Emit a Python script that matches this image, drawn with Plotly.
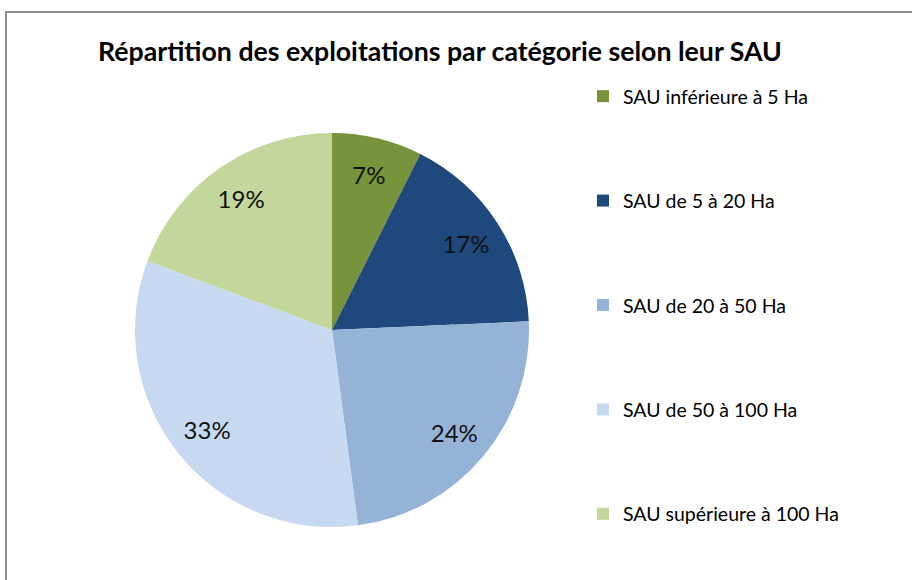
import plotly.graph_objects as go

categories = [
    "SAU inférieure à 5 Ha",
    "SAU de 5 à 20 Ha",
    "SAU de 20 à 50 Ha",
    "SAU de 50 à 100 Ha",
    "SAU supérieure à 100 Ha",
]
shares = [7.4, 16.9, 23.6, 32.8, 19.3]
colors = ["#77933C", "#1F497D", "#95B3D7", "#C6D9F1", "#C3D69B"]

W, H = 912, 580
FONT = "Lato"

# pie geometry (pixels)
CX, CY, R = 332, 330, 197
HOLE = 0.62  # outer ring holds the labels; inner pie fills the hole

# extra blank lines give the spaced-out legend rows of the original
legend_labels = [
    c + ("<br> <br> <br> " if i < len(categories) - 1 else "")
    for i, c in enumerate(categories)
]


def dom(r):
    return dict(
        x=[(CX - r) / W, (CX + r) / W],
        y=[1 - (CY + r) / H, 1 - (CY - r) / H],
    )


outer = go.Pie(
    labels=legend_labels,
    values=shares,
    sort=False,
    direction="clockwise",
    rotation=0,
    hole=HOLE,
    marker=dict(colors=colors, line=dict(width=0)),
    texttemplate="%{percent:.0%}",
    textposition="inside",
    insidetextorientation="horizontal",
    textfont=dict(family=FONT, size=24, color="#111111"),
    hovertemplate="%{customdata}: %{percent:.0%}<extra></extra>",
    customdata=categories,
    domain=dom(R),
)

inner = go.Pie(
    labels=legend_labels,
    values=shares,
    sort=False,
    direction="clockwise",
    rotation=0,
    marker=dict(colors=colors, line=dict(width=0)),
    textinfo="none",
    showlegend=False,
    hovertemplate="%{customdata}: %{percent:.0%}<extra></extra>",
    customdata=categories,
    domain=dom(R * HOLE + 1.5),
)

fig = go.Figure([outer, inner])

fig.update_layout(
    width=W,
    height=H,
    margin=dict(l=0, r=0, t=0, b=0, autoexpand=False),
    paper_bgcolor="white",
    plot_bgcolor="white",
    font=dict(family=FONT, color="#000000"),
    title=dict(
        text="<b>Répartition des exploitations par catégorie selon leur SAU</b>",
        x=98 / W,
        xanchor="left",
        y=1 - 52 / H,
        yanchor="middle",
        font=dict(family=FONT, size=26.7, color="#000000"),
    ),
    legend=dict(
        x=583 / W,
        xanchor="left",
        y=1 - 77 / H,
        yanchor="top",
        valign="top",
        font=dict(family=FONT, size=19.5, color="#000000"),
        itemclick=False,
        tracegroupgap=0,
    ),
    shapes=[
        dict(
            type="rect",
            xref="paper",
            yref="paper",
            x0=6 / W,
            x1=1.05,
            y0=-0.05,
            y1=1 - 12 / H,
            line=dict(color="#8C8C8C", width=2),
            fillcolor="rgba(0,0,0,0)",
        )
    ],
)

fig.write_html(
    "out.html",
    config={"displayModeBar": False},
    post_script="document.body.style.margin='0';document.body.style.overflow='hidden';",
)
